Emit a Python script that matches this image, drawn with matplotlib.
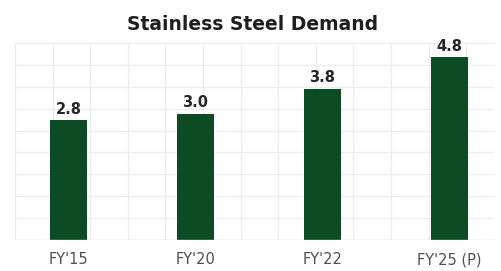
import matplotlib
matplotlib.use('Agg')
import matplotlib.pyplot as plt
import numpy as np

categories = ["FY'15", "FY'20", "FY'22", "FY'25 (P)"]
demand = [2.8, 3.0, 3.8, 4.8]

# the source chart is not drawn from zero, bars start a bit below it
base = -1.0

W, H = 501, 271
fig = plt.figure(figsize=(W / 100, H / 100), dpi=100)
fig.patch.set_facecolor('white')

rect = [15 / W, 31 / H, 480 / W, 197 / H]

# background grid
bg = fig.add_axes(rect, zorder=0)
bg.set_xlim(0, 480 / 37.6)
bg.set_ylim(0, 9)
bg.set_xticks(np.arange(0, 13))
bg.set_yticks(np.arange(0, 10))
bg.grid(True, color='#ececec', linewidth=0.9)
bg.tick_params(length=0, labelbottom=False, labelleft=False)
for s in bg.spines.values():
    s.set_visible(False)

ax = fig.add_axes(rect, zorder=1)
ax.patch.set_alpha(0)
x = np.arange(len(categories))
vals = np.array(demand)
ax.bar(x, vals - base, bottom=base, width=0.29, color='#0c4b24')
for xi, v in zip(x, vals):
    ax.text(xi, v + 0.12, f"{v:.1f}", ha='center', va='bottom',
            fontsize=10.5, fontweight='bold', color='#262626')

ax.set_xlim(-0.421, 3.358)
ax.set_ylim(base, base + 197 / 31.5)
ax.set_xticks(x)
ax.set_xticklabels(categories, fontsize=10.5, color='#505050')
ax.tick_params(axis='x', length=0, pad=9)
ax.set_yticks([])
for s in ax.spines.values():
    s.set_visible(False)
ax.axhline(base, color='#dcdcdc', linewidth=1)

fig.text(253 / W, 1 - 25 / H, "Stainless Steel Demand", ha='center', va='center',
         fontsize=13.5, fontweight='bold', color='#1e1e1e')

fig.savefig('out.png', dpi=100, facecolor='white')
